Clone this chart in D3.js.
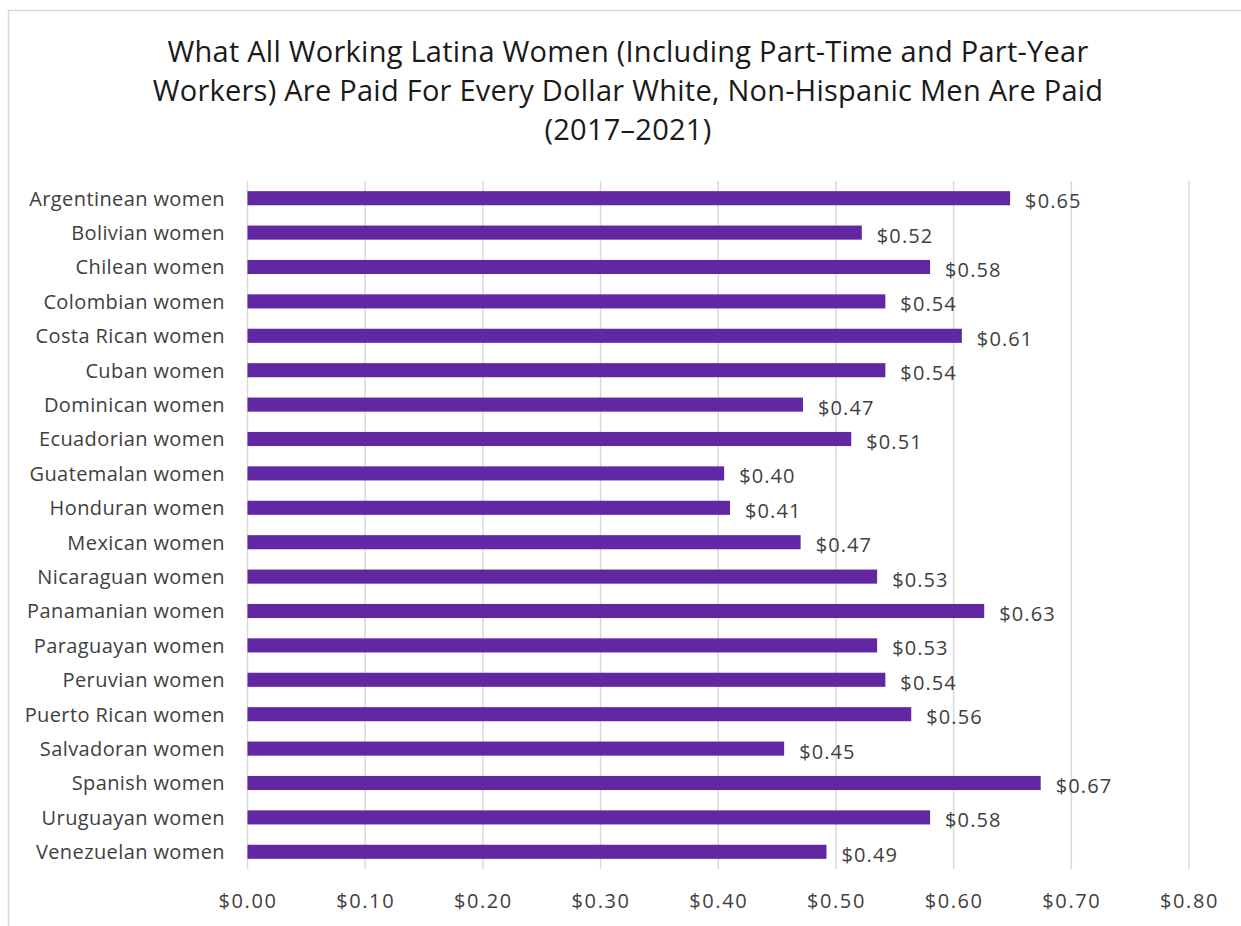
<!DOCTYPE html>
<html lang="en">
<head>
  <meta charset="UTF-8">
  <title>Latina Women Pay Gap</title>
  <script src="https://d3js.org/d3.v7.min.js"></script>
  <style>
    body { margin: 0; overflow: hidden; background: #fff; }
    svg { display: block; }
  </style>
</head>
<body>
  <svg id="chart"></svg>

  <script>
    const width = 1241;
    const height = 926;

    // Chart data
    const categories = [
      "Argentinean women", "Bolivian women", "Chilean women", "Colombian women",
      "Costa Rican women", "Cuban women", "Dominican women", "Ecuadorian women",
      "Guatemalan women", "Honduran women", "Mexican women", "Nicaraguan women",
      "Panamanian women", "Paraguayan women", "Peruvian women", "Puerto Rican women",
      "Salvadoran women", "Spanish women", "Uruguayan women", "Venezuelan women"
    ];
    const values = [
      0.648, 0.522, 0.580, 0.542, 0.607, 0.542, 0.472, 0.513, 0.405, 0.410,
      0.470, 0.535, 0.626, 0.535, 0.542, 0.564, 0.456, 0.674, 0.580, 0.492
    ];
    const labels = [
      "$0.65", "$0.52", "$0.58", "$0.54", "$0.61", "$0.54", "$0.47", "$0.51", "$0.40", "$0.41",
      "$0.47", "$0.53", "$0.63", "$0.53", "$0.54", "$0.56", "$0.45", "$0.67", "$0.58", "$0.49"
    ];
    const xTicks = [0, 0.1, 0.2, 0.3, 0.4, 0.5, 0.6, 0.7, 0.8];
    const titleLines = [
      "What All Working Latina Women (Including Part-Time and Part-Year",
      "Workers) Are Paid For Every Dollar White, Non-Hispanic Men Are Paid",
      "(2017\u20132021)"
    ];

    const font = "'Open Sans', sans-serif";
    const barColor = "#6228a3";
    const textColor = "#404040";

    const svg = d3.select("#chart")
      .attr("width", width)
      .attr("height", height);

    // outer chart border (only left/top visible in frame)
    svg.append("rect")
      .attr("x", 8.5).attr("y", 10.5)
      .attr("width", width + 20).attr("height", height + 20)
      .attr("fill", "none")
      .attr("stroke", "#d9d9d9")
      .attr("stroke-width", 1.5);

    // title
    svg.append("g")
      .selectAll("text")
      .data(titleLines)
      .enter()
      .append("text")
      .attr("x", 628)
      .attr("y", (d, i) => 62 + i * 39)
      .attr("text-anchor", "middle")
      .attr("font-family", font)
      .attr("font-size", 29)
      .attr("letter-spacing", 0.25)
      .attr("fill", "#1a1a1a")
      .text(d => d);

    const x = d3.scaleLinear()
      .domain([0, 0.8])
      .range([247.5, 1189]);

    const y = d3.scaleBand()
      .domain(categories)
      .range([181, 869])
      .paddingInner(0.59)
      .paddingOuter(0.295);

    // gridlines
    svg.append("g")
      .selectAll("line")
      .data(xTicks)
      .enter()
      .append("line")
      .attr("x1", d => x(d)).attr("x2", d => x(d))
      .attr("y1", 181).attr("y2", 869)
      .attr("stroke", "#d9d9d9")
      .attr("stroke-width", 1.5);

    // x axis labels
    const xAxis = d3.axisBottom(x)
      .tickValues(xTicks)
      .tickSize(0)
      .tickPadding(0)
      .tickFormat(d => "$" + d3.format(".2f")(d));

    const gx = svg.append("g")
      .attr("transform", "translate(0,894)")
      .call(xAxis);
    gx.select(".domain").remove();
    gx.selectAll("text")
      .attr("dy", "0.71em")
      .attr("font-family", font)
      .attr("font-size", 20)
      .attr("letter-spacing", 1.6)
      .attr("fill", textColor);

    // y axis labels
    const yAxis = d3.axisLeft(y).tickSize(0).tickPadding(0);
    const gy = svg.append("g")
      .attr("transform", "translate(225,1)")
      .call(yAxis);
    gy.select(".domain").remove();
    gy.selectAll("text")
      .attr("font-family", font)
      .attr("font-size", 20)
      .attr("letter-spacing", 0.4)
      .attr("fill", textColor);

    // bars
    svg.append("g")
      .selectAll("rect")
      .data(values)
      .enter()
      .append("rect")
      .attr("x", x(0))
      .attr("y", (d, i) => y(categories[i]))
      .attr("width", d => x(d) - x(0))
      .attr("height", y.bandwidth())
      .attr("fill", barColor);

    // value labels
    svg.append("g")
      .selectAll("text")
      .data(values)
      .enter()
      .append("text")
      .attr("x", d => x(d) + 15)
      .attr("y", (d, i) => y(categories[i]) + y.bandwidth() / 2 + 3)
      .attr("dy", "0.35em")
      .attr("font-family", font)
      .attr("font-size", 20)
      .attr("letter-spacing", 1.1)
      .attr("fill", textColor)
      .text((d, i) => labels[i]);
  </script>
</body>
</html>
